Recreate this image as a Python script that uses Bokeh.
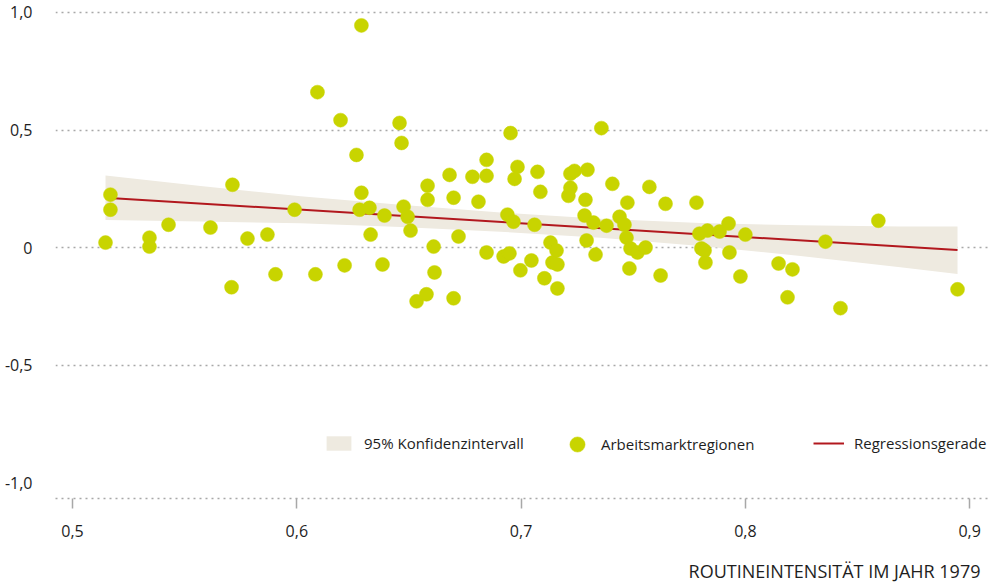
from bokeh.plotting import figure
from bokeh.models import FixedTicker, Legend, LegendItem, Title, Range1d
from bokeh.embed import file_html
from bokeh.resources import INLINE

# Arbeitsmarktregionen: Routineintensität 1979 (x) vs. Veränderung (y)
region_x = [0.5147, 0.5169, 0.5169, 0.5343, 0.5343, 0.5428, 0.5615, 0.5713, 0.5709, 0.5780,
            0.5869, 0.5905, 0.5990, 0.6083, 0.6092, 0.6195, 0.6213, 0.6266, 0.6288, 0.6288,
            0.6280, 0.6324, 0.6329, 0.6382, 0.6391, 0.6458, 0.6467, 0.6476, 0.6494, 0.6507,
            0.6534, 0.6578, 0.6583, 0.6583, 0.6610, 0.6614, 0.6681, 0.6699, 0.6699, 0.6721,
            0.6783, 0.6810, 0.6846, 0.6846, 0.6846, 0.6922, 0.6939, 0.6948, 0.6953, 0.6966,
            0.6971, 0.6984, 0.6997, 0.7046, 0.7060, 0.7073, 0.7086, 0.7104, 0.7131, 0.7140,
            0.7158, 0.7162, 0.7162, 0.7211, 0.7220, 0.7220, 0.7238, 0.7283, 0.7287, 0.7292,
            0.7296, 0.7323, 0.7332, 0.7358, 0.7381, 0.7407, 0.7439, 0.7461, 0.7470, 0.7474,
            0.7488, 0.7519, 0.7555, 0.7572, 0.7483, 0.7622, 0.7644, 0.7782, 0.7795, 0.7804,
            0.7818, 0.7822, 0.7831, 0.7885, 0.7925, 0.7929, 0.7978, 0.8000, 0.8148, 0.8210,
            0.8188, 0.8357, 0.8424, 0.8593, 0.8946]
region_y = [0.021, 0.225, 0.161, 0.042, 0.004, 0.097, 0.085, 0.267, -0.169, 0.038,
            0.055, -0.114, 0.161, -0.114, 0.661, 0.542, -0.076, 0.394, 0.945, 0.233,
            0.161, 0.169, 0.055, -0.072, 0.136, 0.530, 0.445, 0.174, 0.131, 0.072,
            -0.229, -0.199, 0.263, 0.203, 0.004, -0.106, 0.309, 0.212, -0.216, 0.047,
            0.301, 0.195, 0.373, 0.305, -0.021, -0.038, 0.140, -0.025, 0.487, 0.110,
            0.292, 0.343, -0.097, -0.055, 0.097, 0.322, 0.237, -0.131, 0.021, -0.064,
            -0.013, -0.072, -0.174, 0.220, 0.254, 0.314, 0.326, 0.136, 0.203, 0.030,
            0.331, 0.106, -0.030, 0.508, 0.093, 0.271, 0.131, 0.097, 0.042, 0.191,
            -0.004, -0.021, 0.000, 0.258, -0.089, -0.119, 0.186, 0.191, 0.059, -0.004,
            -0.013, -0.064, 0.072, 0.068, 0.102, -0.021, -0.123, 0.055, -0.068, -0.093,
            -0.212, 0.025, -0.258, 0.114, -0.178]

# Regressionsgerade
reg_x = [0.5147, 0.8946]
reg_y = [0.212, -0.011]

# 95% Konfidenzintervall
band_x = [0.5147, 0.5571, 0.6017, 0.6462, 0.6908, 0.7354, 0.7800, 0.8246, 0.8691, 0.8946]
band_upper = [0.306, 0.262, 0.218, 0.182, 0.149, 0.122, 0.104, 0.095, 0.090, 0.090]
band_lower = [0.117, 0.111, 0.103, 0.087, 0.067, 0.042, 0.007, -0.036, -0.084, -0.113]

x_ticks = [0.5, 0.6, 0.7, 0.8, 0.9]
x_tick_labels = ["0,5", "0,6", "0,7", "0,8", "0,9"]
y_ticks = [-1.0, -0.5, 0.0, 0.5, 1.0]
y_tick_labels = ["-1,0", "-0,5", "0", "0,5", "1,0"]
grid_ticks = [-0.5, 0.0, 0.5, 1.0]

x_title = "ROUTINEINTENSITÄT IM JAHR 1979"
legend_labels = ["95% Konfidenzintervall", "Arbeitsmarktregionen", "Regressionsgerade"]

FONT = "Open Sans"
TEXT = "#1e1e1e"
GRID = "#a8a8a8"

p = figure(width=997, height=582,
           x_range=Range1d(0.4924, 0.9093), y_range=Range1d(-1.0678, 1.0085),
           output_backend="svg", toolbar_location=None,
           min_border_left=55, min_border_right=7, min_border_top=10, min_border_bottom=82)
p.outline_line_color = None
p.background_fill_color = "white"
p.border_fill_color = "white"

p.xgrid.visible = False
p.ygrid.ticker = FixedTicker(ticks=grid_ticks)
p.ygrid.grid_line_color = GRID
p.ygrid.grid_line_dash = "2 4"
p.ygrid.grid_line_width = 1.5

yax = p.yaxis[0]
yax.ticker = FixedTicker(ticks=y_ticks)
yax.major_label_overrides = {t: l for t, l in zip(y_ticks, y_tick_labels)}
yax.axis_line_color = None
yax.major_tick_line_color = None
yax.minor_tick_line_color = None
yax.major_label_standoff = 17
yax.major_label_text_font = FONT
yax.major_label_text_font_size = "16px"
yax.major_label_text_color = TEXT

xax = p.xaxis[0]
xax.ticker = FixedTicker(ticks=x_ticks)
xax.major_label_overrides = {t: l for t, l in zip(x_ticks, x_tick_labels)}
xax.axis_line_color = GRID
xax.axis_line_dash = "2 4"
xax.axis_line_width = 1.5
xax.major_tick_line_color = GRID
xax.major_tick_line_width = 1.5
xax.major_tick_out = 10
xax.major_tick_in = 0
xax.minor_tick_line_color = None
xax.major_label_standoff = 16
xax.major_label_text_font = FONT
xax.major_label_text_font_size = "16px"
xax.major_label_text_color = TEXT
# blank spacer label: pushes the right-aligned title below further down
xax.axis_label = " "
xax.axis_label_standoff = 0
xax.axis_label_text_font_size = "12px"

band = p.varea(x=band_x, y1=band_lower, y2=band_upper, fill_color="#EEEAE0", fill_alpha=1)
reg = p.line(reg_x, reg_y, line_color="#B2181E", line_width=2)
pts = p.scatter(region_x, region_y, size=14, marker="circle",
                fill_color="#C8D400", line_color="#C8D400", line_width=0.5)

legend_specs = [
    # renderer, label, frame-x, frame-y, glyph w, glyph h, standoff
    (band, legend_labels[0], 268, 45, 31, 18, 10),
    (pts, legend_labels[1], 503, 35, 38, 38, 5),
    (reg, legend_labels[2], 758, 45, 31, 18, 10),
]
for r, lab, xloc, yloc, gw, gh, so in legend_specs:
    leg = Legend(items=[LegendItem(label=lab, renderers=[r])],
                 location=(xloc, yloc), orientation="horizontal",
                 glyph_width=gw, glyph_height=gh, label_height=gh,
                 label_standoff=so, padding=0, margin=0, spacing=0,
                 border_line_color=None, background_fill_alpha=0,
                 label_text_font=FONT, label_text_font_size="15px",
                 label_text_color=TEXT)
    p.add_layout(leg)

t = Title(text=x_title, align="right", text_font=FONT, text_font_size="18px",
          text_font_style="normal", text_color=TEXT, offset=10, standoff=0)
p.add_layout(t, "below")

open("out.html", "w").write(file_html(p, INLINE))
